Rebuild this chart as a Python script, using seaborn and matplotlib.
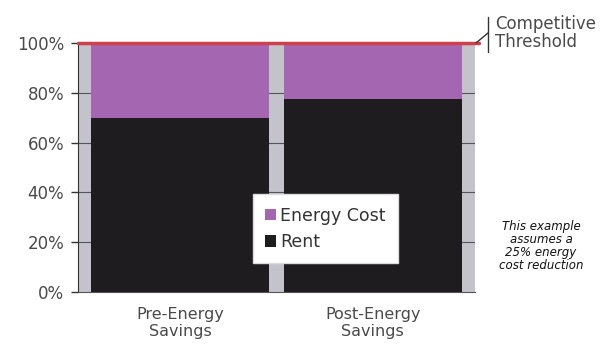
import numpy as np
import pandas as pd
import matplotlib
matplotlib.use("Agg")
import matplotlib.pyplot as plt
import seaborn as sns
from matplotlib.patches import Patch
from matplotlib.ticker import FuncFormatter

categories = ["Pre-Energy\nSavings", "Post-Energy\nSavings"]
rent = [70.0, 77.5]
energy_cost = [30.0, 22.5]
threshold = 100
yticks = [0, 20, 40, 60, 80, 100]

df = pd.DataFrame({"scenario": categories, "rent": rent, "energy": energy_cost})
df["total"] = df["rent"] + df["energy"]

rent_color = "#1e1c1e"
energy_color = "#a466b0"
bg_color = "#c4c3cc"
text_color = "#4a4a4a"

sns.set_style("white")
plt.rcParams["font.family"] = ["DejaVu Sans"]

fig = plt.figure(figsize=(6.08, 3.46), dpi=100)
ax = fig.add_axes([78 / 608, 1 - 292 / 346, 397 / 608, 249 / 346])
ax.set_facecolor(bg_color)

# stacked bars: full height in purple, rent drawn on top
sns.barplot(data=df, x="scenario", y="total", color=energy_color, width=0.92,
            saturation=1, linewidth=0, edgecolor="none", ax=ax, zorder=2)
sns.barplot(data=df, x="scenario", y="rent", color=rent_color, width=0.92,
            saturation=1, linewidth=0, edgecolor="none", ax=ax, zorder=3)

for y in yticks[1:-1]:
    ax.axhline(y, color="#555560", lw=0.8, zorder=1)

# competitive threshold line
ax.axhline(threshold, xmin=0, xmax=1.01, color="#d0404c", lw=2.5, zorder=4, clip_on=False)

ax.set_xlim(-0.53, 1.53)
ax.set_ylim(0, 100)
ax.set_yticks(yticks)
ax.yaxis.set_major_formatter(FuncFormatter(lambda v, p: f"{v:.0f}%"))
ax.tick_params(axis="y", left=True, length=5, width=1, color="#333333",
               labelsize=12, labelcolor=text_color, pad=5)
ax.tick_params(axis="x", bottom=False, labelsize=11.5, labelcolor=text_color, pad=7)
ax.set_xlabel("")
ax.set_ylabel("")
for s in ["top", "right"]:
    ax.spines[s].set_visible(False)
ax.spines["left"].set_color("#333333")
ax.spines["bottom"].set_color("#555555")

handles = [Patch(facecolor=energy_color, edgecolor="none", label="Energy Cost"),
           Patch(facecolor=rent_color, edgecolor="none", label="Rent")]
leg = ax.legend(handles=handles, loc="lower left", bbox_to_anchor=(0.44, 0.115),
                frameon=True, fancybox=False, fontsize=12.5, handlelength=0.65,
                handleheight=0.65, handletextpad=0.25, labelspacing=0.5,
                borderpad=0.7, borderaxespad=0, labelcolor="#333333")
leg.get_frame().set_facecolor("white")
leg.get_frame().set_edgecolor("#dddddd")
leg.get_frame().set_alpha(1)

# bracket for threshold label
fig.add_artist(plt.Line2D([476 / 608, 488 / 608], [1 - 43 / 346, 1 - 33 / 346],
                          color="#333333", lw=1))
fig.add_artist(plt.Line2D([488 / 608, 488 / 608], [1 - 17 / 346, 1 - 52 / 346],
                          color="#333333", lw=1))
fig.text(495 / 608, 1 - 33 / 346, "Competitive\nThreshold", ha="left", va="center",
         fontsize=12, color=text_color, linespacing=1.0)

fig.text(541 / 608, 1 - 246 / 346, "This example\nassumes a\n25% energy\ncost reduction",
         ha="center", va="center", fontsize=8.5, style="italic", color="#111111",
         linespacing=1.0)

fig.savefig("out.png", dpi=100)
